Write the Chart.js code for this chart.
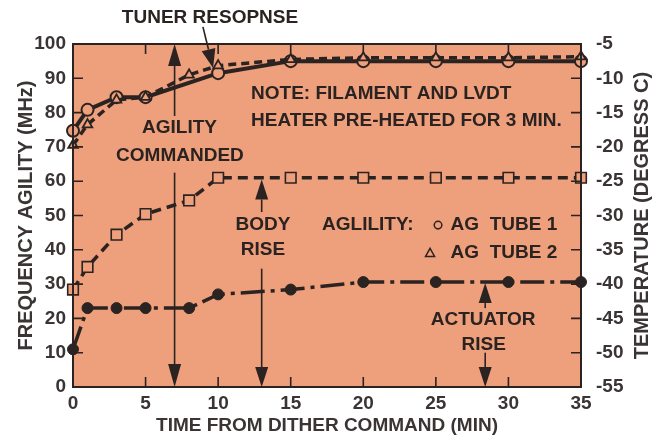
<!DOCTYPE html>
<html>
<head>
<meta charset="utf-8">
<script src="https://cdn.jsdelivr.net/npm/chart.js@4.4.0/dist/chart.umd.min.js"></script>
<style>
  html, body { margin: 0; padding: 0; background: #fff; }
  #wrap { width: 665px; height: 437px; }
</style>
</head>
<body>
<div id="wrap"><canvas id="tunerChart" width="665" height="437"></canvas></div>
<script>
// Minutes after the dither command
const times = [0, 1, 3, 5, 8, 10, 15, 20, 25, 30, 35];
const tube1Times = [0, 1, 3, 5, 10, 15, 20, 25, 30, 35];

// Frequency agility (MHz), left axis
const tube1Agility = [74.7, 80.8, 84.5, 84.5, 91.5, 95, 95, 95, 95, 95];
const tube2Agility = [70.5, 76.5, 83.7, 84.5, 91, 93.7, 95.5, 96, 96, 96, 96.3];

// Temperatures (deg C), right axis
const bodyTemp = [-40.8, -37.5, -32.8, -29.8, -27.8, -24.5, -24.5, -24.5, -24.5, -24.5, -24.5];
const actuatorTemp = [-49.5, -43.5, -43.5, -43.5, -43.5, -41.5, -40.8, -39.7, -39.7, -39.7, -39.7];

// Tick labels
const timeTicks = [0, 5, 10, 15, 20, 25, 30, 35];
const agilityTicks = [0, 10, 20, 30, 40, 50, 60, 70, 80, 90, 100];
const tempTicks = [-55, -50, -45, -40, -35, -30, -25, -20, -15, -10, -5];

const INK = '#2b2321';
const PLOT_BG = '#ee9f7b';
const FONT = "'Liberation Sans', Arial, Helvetica, sans-serif";

const toPoints = (xs, ys) => xs.map((x, i) => ({ x: x, y: ys[i] }));

// Callouts, placed in (minutes, MHz) coordinates
const arrows = [
  { from: [7, 79], to: [7, 100], len: 22, w: 13 },
  { from: [7, 62.5], to: [7, 0], len: 23, w: 13 },
  { from: [13, 51], to: [13, 60.5], len: 20, w: 13 },
  { from: [13, 34.5], to: [13, 0], len: 20, w: 13 },
  { from: [28.4, 23], to: [28.4, 30.3], len: 20, w: 13 },
  { from: [28.4, 10], to: [28.4, 0], len: 20, w: 13 },
  { from: [8.95, 105], to: [9.65, 93], len: 19, w: 14 }
];
const labels = [
  { text: 'TUNER RESOPNSE', at: [9.44, 107.6], align: 'center' },
  { text: 'AGILITY', at: [7.34, 75.5], align: 'center' },
  { text: 'COMMANDED', at: [7.37, 67.3], align: 'center' },
  { text: 'NOTE: FILAMENT AND LVDT', at: [12.27, 85.5], align: 'left' },
  { text: 'HEATER PRE-HEATED FOR 3 MIN.', at: [12.27, 77.6], align: 'left' },
  { text: 'BODY', at: [13.09, 47.2], align: 'center' },
  { text: 'RISE', at: [13.09, 39.9], align: 'center' },
  { text: 'AGLILITY:', at: [17.16, 47.2], align: 'left' },
  { text: 'AG  TUBE 1', at: [33.36, 47.2], align: 'right' },
  { text: 'AG  TUBE 2', at: [33.36, 39.1], align: 'right' },
  { text: 'ACTUATOR', at: [28.26, 19.5], align: 'center' },
  { text: 'RISE', at: [28.3, 12.2], align: 'center' }
];

function drawArrow(ctx, x1, y1, x2, y2, len, w) {
  const ang = Math.atan2(y2 - y1, x2 - x1);
  const bx = x2 - Math.cos(ang) * len, by = y2 - Math.sin(ang) * len;
  ctx.beginPath();
  ctx.moveTo(x1, y1);
  ctx.lineTo(bx, by);
  ctx.stroke();
  ctx.beginPath();
  ctx.moveTo(x2, y2);
  ctx.lineTo(bx + Math.sin(ang) * w / 2, by - Math.cos(ang) * w / 2);
  ctx.lineTo(bx - Math.sin(ang) * w / 2, by + Math.cos(ang) * w / 2);
  ctx.closePath();
  ctx.fill();
}

const plotFrame = {
  id: 'plotFrame',
  beforeDatasetsDraw(chart) {
    const { ctx, chartArea: a } = chart;
    ctx.save();
    ctx.fillStyle = PLOT_BG;
    ctx.fillRect(a.left, a.top, a.right - a.left, a.bottom - a.top);
    ctx.restore();
  },
  afterDraw(chart) {
    const { ctx, chartArea: a, scales } = chart;
    ctx.save();
    ctx.strokeStyle = INK;
    ctx.fillStyle = INK;
    ctx.lineWidth = 1.6;

    // inward tick marks on all four sides
    const tl = 10;
    ctx.beginPath();
    timeTicks.slice(1, -1).forEach(t => {
      const x = scales.x.getPixelForValue(t);
      ctx.moveTo(x, a.bottom); ctx.lineTo(x, a.bottom - tl);
      ctx.moveTo(x, a.top); ctx.lineTo(x, a.top + tl);
    });
    agilityTicks.slice(1, -1).forEach(v => {
      const y = scales.y.getPixelForValue(v);
      ctx.moveTo(a.left, y); ctx.lineTo(a.left + tl, y);
    });
    tempTicks.slice(1, -1).forEach(v => {
      const y = scales.temp.getPixelForValue(v);
      ctx.moveTo(a.right, y); ctx.lineTo(a.right - tl, y);
    });
    ctx.stroke();
    ctx.lineWidth = 2;
    ctx.strokeRect(a.left, a.top, a.right - a.left, a.bottom - a.top);

    // callout arrows
    ctx.lineWidth = 1.6;
    const p = (t, v) => [scales.x.getPixelForValue(t), scales.y.getPixelForValue(v)];
    arrows.forEach(ar => {
      const [x1, y1] = p(...ar.from), [x2, y2] = p(...ar.to);
      drawArrow(ctx, x1, y1, x2, y2, ar.len, ar.w);
    });

    // callout text
    ctx.font = 'bold 19px ' + FONT;
    ctx.textBaseline = 'middle';
    labels.forEach(l => {
      const [x, y] = p(...l.at);
      ctx.textAlign = l.align;
      ctx.fillText(l.text, x, y);
    });

    // legend symbols next to the tube labels
    ctx.lineWidth = 1.5;
    let [cx, cy] = p(25.15, 47.2);
    ctx.beginPath();
    ctx.arc(cx, cy, 3.8, 0, Math.PI * 2);
    ctx.stroke();
    [cx, cy] = p(24.6, 39.1);
    ctx.beginPath();
    ctx.moveTo(cx, cy - 4.5);
    ctx.lineTo(cx + 4.5, cy + 3.5);
    ctx.lineTo(cx - 4.5, cy + 3.5);
    ctx.closePath();
    ctx.stroke();

    // right axis title, reading bottom to top
    ctx.fillStyle = '#3a3434';
    ctx.font = 'bold 20px ' + FONT;
    ctx.textAlign = 'center';
    ctx.translate(642, (a.top + a.bottom) / 2);
    ctx.rotate(-Math.PI / 2);
    ctx.fillText('TEMPERATURE (DEGRESS C)', 0, 0);
    ctx.restore();
  }
};

const fixTicks = list => scale => { scale.ticks = list.map(v => ({ value: v })); };

const ctx = document.getElementById('tunerChart').getContext('2d');
const tunerChart = new Chart(ctx, {
  type: 'line',
  data: {
    datasets: [
      {
        label: 'AG TUBE 2',
        data: toPoints(times, tube2Agility),
        yAxisID: 'y',
        borderColor: INK,
        borderWidth: 3.5,
        borderDash: [8, 5],
        pointStyle: 'triangle',
        pointRadius: 5.5,
        pointBorderWidth: 1.8,
        pointBackgroundColor: PLOT_BG,
        pointBorderColor: INK,
        order: 1
      },
      {
        label: 'AG TUBE 1',
        data: toPoints(tube1Times, tube1Agility),
        yAxisID: 'y',
        borderColor: INK,
        borderWidth: 4,
        pointStyle: 'circle',
        pointRadius: 6,
        pointBorderWidth: 2,
        pointBackgroundColor: PLOT_BG,
        pointBorderColor: INK,
        order: 2
      },
      {
        label: 'BODY',
        data: toPoints(times, bodyTemp),
        yAxisID: 'temp',
        borderColor: INK,
        borderWidth: 3.5,
        borderDash: [10, 6],
        pointStyle: 'rect',
        pointRadius: 7.5,
        pointBorderWidth: 1.6,
        pointBackgroundColor: PLOT_BG,
        pointBorderColor: INK,
        order: 3
      },
      {
        label: 'ACTUATOR',
        data: toPoints(times, actuatorTemp),
        yAxisID: 'temp',
        borderColor: INK,
        borderWidth: 3.5,
        borderDash: [24, 6, 4, 6],
        pointStyle: 'circle',
        pointRadius: 5.5,
        pointBorderWidth: 1,
        pointBackgroundColor: INK,
        pointBorderColor: INK,
        order: 4
      }
    ]
  },
  options: {
    responsive: false,
    animation: false,
    clip: false,
    layout: { padding: { top: 44, left: 0, right: 0, bottom: 0 } },
    elements: { line: { tension: 0, fill: false } },
    plugins: { legend: { display: false }, tooltip: { enabled: false } },
    scales: {
      x: {
        type: 'linear',
        min: 0,
        max: 35,
        afterBuildTicks: fixTicks(timeTicks),
        afterFit: s => { s.height = 50; },
        grid: { display: false, drawTicks: false },
        border: { display: false },
        ticks: { padding: 5, autoSkip: false, maxRotation: 0, color: '#3a3434',
                 font: { size: 19, weight: 'bold', family: FONT } },
        title: { display: true, text: 'TIME FROM DITHER COMMAND (MIN)', color: '#3a3434',
                 padding: { top: 0, bottom: 0 }, font: { size: 19, weight: 'bold', family: FONT } }
      },
      y: {
        position: 'left',
        min: 0,
        max: 100,
        afterBuildTicks: fixTicks(agilityTicks),
        afterFit: s => { s.width = 73; },
        grid: { display: false, drawTicks: false },
        border: { display: false },
        ticks: { padding: 7, autoSkip: false, color: '#3a3434',
                 font: { size: 19, weight: 'bold', family: FONT } },
        title: { display: true, text: 'FREQUENCY AGILITY (MHz)', color: '#3a3434',
                 padding: { top: 14, bottom: 0 }, font: { size: 20, weight: 'bold', family: FONT } }
      },
      temp: {
        position: 'right',
        min: -55,
        max: -5,
        afterBuildTicks: fixTicks(tempTicks),
        afterFit: s => { s.width = 84; },
        grid: { display: false, drawTicks: false },
        border: { display: false },
        ticks: { padding: 15, autoSkip: false, color: '#3a3434',
                 font: { size: 19, weight: 'bold', family: FONT } }
      }
    }
  },
  plugins: [plotFrame]
});
</script>
</body>
</html>
